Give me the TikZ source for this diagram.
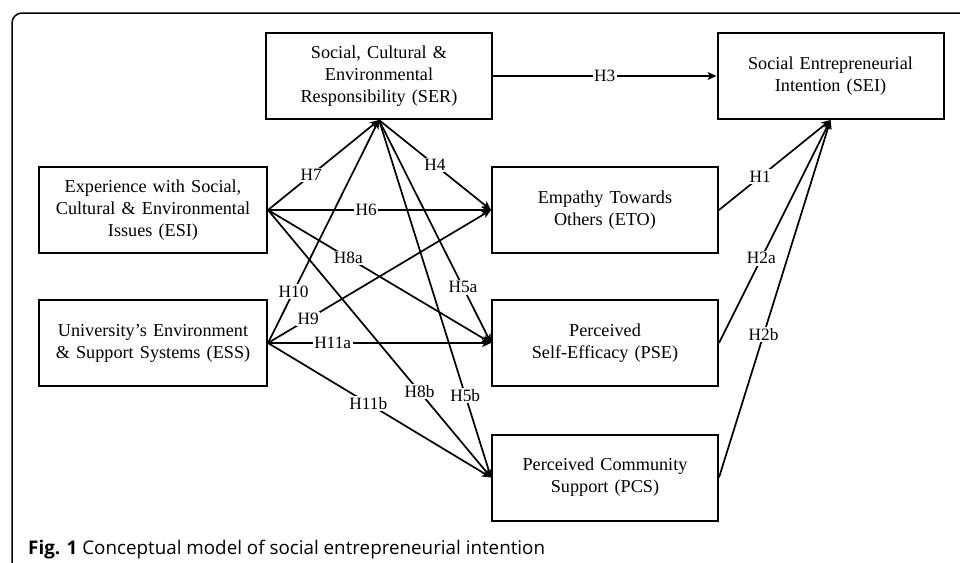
\documentclass[tikz,border=0pt]{standalone}
\usepackage{fontspec}
\setmainfont{Liberation Serif}
\newfontfamily\boxfont[WordSpace=1.35]{Liberation Serif}
\newfontfamily\capfont{Open Sans}
\usetikzlibrary{arrows.meta}
\begin{document}
\begin{tikzpicture}[x=1pt,y=-1pt,
  box/.style={draw,line width=2pt,minimum width=226pt,minimum height=86pt,align=center,inner sep=0pt,font=\boxfont\fontsize{18.2}{22}\selectfont},
  arr/.style={line width=1.7pt,-{Stealth[length=9pt,width=8pt,inset=2.5pt]}},
  lab/.style={fill=white,inner sep=1.5pt,font=\fontsize{17.3}{20}\selectfont}]
\useasboundingbox (0,0) rectangle (960,562);
\draw[line width=1.5pt,rounded corners=10pt] (12,575) -- (12,13) -- (975,13);
\node[box] (SER) at (379,76) {Social, Cultural \&\\Environmental\\Responsibility (SER)};
\node[box] (SEI) at (830.5,76) {Social Entrepreneurial\\Intention (SEI)};
\node[box, minimum width=228pt] (ESI) at (153,210) {Experience with Social,\\Cultural \& Environmental\\Issues (ESI)};
\node[box] (ETO) at (605,210) {Empathy Towards\\Others (ETO)};
\node[box, minimum width=228pt] (ESS) at (153,343) {University’s Environment\\\& Support Systems (ESS)};
\node[box] (PSE) at (605,343) {Perceived\\Self-Efficacy (PSE)};
\node[box] (PCS) at (605,477.5) {Perceived Community\\Support (PCS)};
\draw[arr] (SER.east) -- node[lab,pos=0.5]{H3} (SEI.west);
\draw[arr] (ESI.east) -- node[lab,pos=0.39]{H7} (SER.south);
\draw[arr] (ESI.east) -- node[lab,pos=0.44]{H6} (ETO.west);
\draw[arr] (SER.south) -- node[lab,pos=0.5]{H4} (ETO.west);
\draw[arr] (ESI.east) -- node[lab,pos=0.36]{H8a} (PSE.west);
\draw[arr] (ESI.east) -- node[lab,pos=0.68]{H8b} (PCS.west);
\draw[arr] (SER.south) -- node[lab,pos=0.75]{H5a} (PSE.west);
\draw[arr] (SER.south) -- node[lab,pos=0.77]{H5b} (PCS.west);
\draw[arr] (ESS.east) -- node[lab,pos=0.23]{H10} (SER.south);
\draw[arr] (ESS.east) -- node[lab,pos=0.18]{H9} (ETO.west);
\draw[arr] (ESS.east) -- node[lab,pos=0.29]{H11a} (PSE.west);
\draw[arr] (ESS.east) -- node[lab,pos=0.45]{H11b} (PCS.west);
\draw[arr] (ETO.east) -- node[lab,pos=0.37]{H1} (SEI.south);
\draw[arr] (PSE.east) -- node[lab,pos=0.38]{H2a} (SEI.south);
\draw[arr] (PCS.east) -- node[lab,pos=0.40]{H2b} (SEI.south);
\node[anchor=base west,inner sep=0pt,font=\capfont\fontsize{18.8}{20}\selectfont] (cap) at (28,554.7) {\textbf{Fig. 1} Conceptual model of social entrepreneurial intention};
\end{tikzpicture}
\end{document}
